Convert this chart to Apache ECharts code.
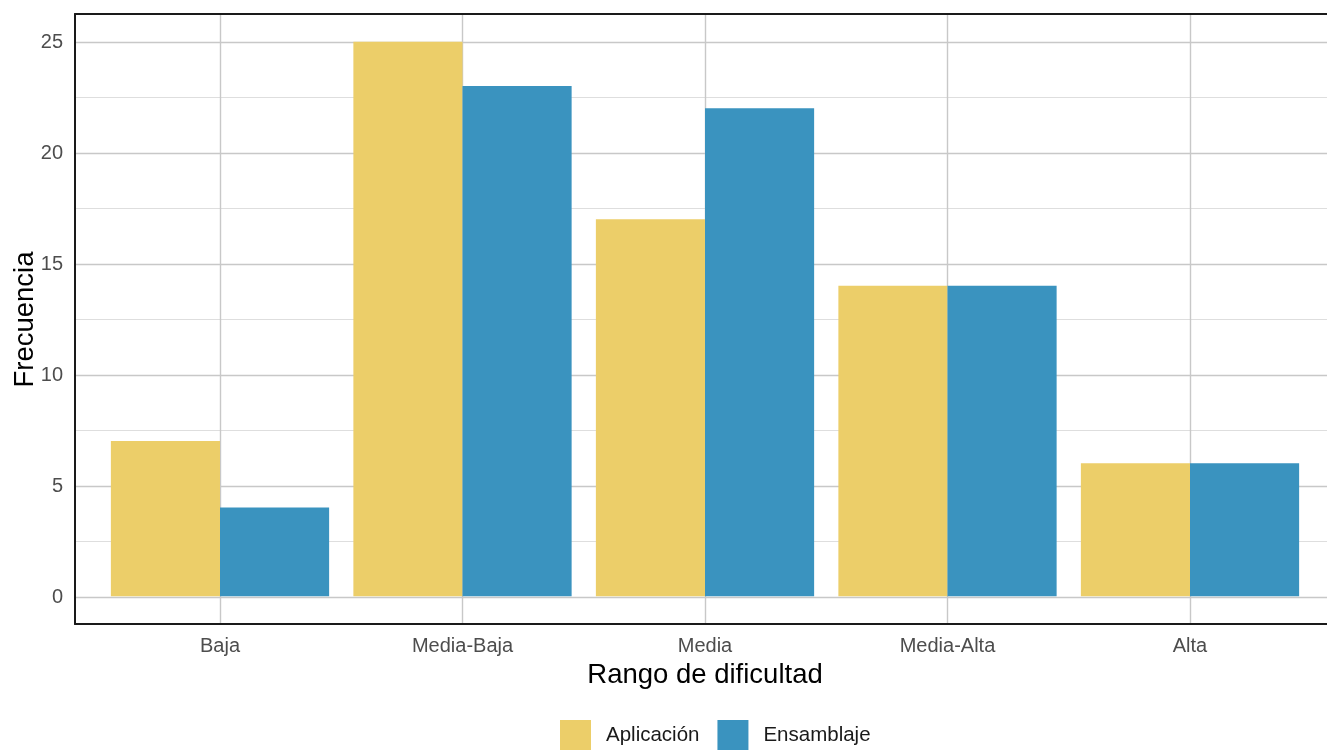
<!DOCTYPE html>
<html>
<head>
<meta charset="utf-8">
<script src="https://cdn.jsdelivr.net/npm/echarts@6/dist/echarts.min.js"></script>
<style>
html,body{margin:0;padding:0;background:#fff;}
#chart{width:1327px;height:750px;}
</style>
</head>
<body>
<div id="chart"></div>
<script>
const categories = ['Baja', 'Media-Baja', 'Media', 'Media-Alta', 'Alta'];
const aplicacion = [7, 25, 17, 14, 6];
const ensamblaje = [4, 23, 22, 14, 6];
const seriesNames = ['Aplicación', 'Ensamblaje'];
const yTicks = { min: 0, max: 25, interval: 5 };

const FONT = '"Liberation Sans", Arial, sans-serif';
const MAJOR = '#C8C8C8';
const MINOR = '#DEDEDE';
const BORDER = '#1a1a1a';

const chart = echarts.init(document.getElementById('chart'), null, { renderer: 'canvas' });
chart.setOption({
  animation: false,
  backgroundColor: '#ffffff',
  textStyle: { fontFamily: FONT },
  grid: [
    // panel frame (drawn with axis lines)
    { left: 75, top: 14, width: 1260, height: 610, outerBoundsMode: 'none', containLabel: false, z: 10 },
    // y axis labels + horizontal gridlines
    { left: 75, top: 42, width: 1260, height: 555, outerBoundsMode: 'none', containLabel: false },
    // bars + vertical gridlines
    { left: 220, top: 14, width: 970, height: 610, outerBoundsMode: 'none', containLabel: false }
  ],
  xAxis: [
    { gridIndex: 0, type: 'value', min: 0, max: 1, position: 'bottom',
      axisLine: { show: true, onZero: false, lineStyle: { color: BORDER, width: 2 } },
      axisTick: { show: false }, axisLabel: { show: false }, splitLine: { show: false } },
    { gridIndex: 0, type: 'value', min: 0, max: 1, position: 'top',
      axisLine: { show: true, onZero: false, lineStyle: { color: BORDER, width: 2 } },
      axisTick: { show: false }, axisLabel: { show: false }, splitLine: { show: false } },
    { gridIndex: 1, type: 'value', show: false, min: 0, max: 1 },
    {
      gridIndex: 2, type: 'category', data: categories, boundaryGap: false,
      axisLine: { show: false }, axisTick: { show: false },
      axisLabel: { interval: 0, color: '#4D4D4D', fontSize: 20, margin: 12, fontFamily: FONT },
      splitLine: { show: true, interval: 0, lineStyle: { color: MAJOR, width: 1.4 } },
      name: 'Rango de dificultad', nameLocation: 'middle', nameGap: 37,
      nameTextStyle: { fontSize: 27.5, color: '#000', fontFamily: FONT }
    }
  ],
  yAxis: [
    { gridIndex: 0, type: 'value', min: 0, max: 1, position: 'left',
      axisLine: { show: true, onZero: false, lineStyle: { color: BORDER, width: 2 } },
      axisTick: { show: false }, axisLabel: { show: false }, splitLine: { show: false } },
    {
      gridIndex: 1, type: 'value', min: yTicks.min, max: yTicks.max, interval: yTicks.interval,
      axisLine: { show: false }, axisTick: { show: false },
      axisLabel: { color: '#4D4D4D', fontSize: 20, margin: 12, fontFamily: FONT },
      splitLine: { show: true, lineStyle: { color: MAJOR, width: 1.4 } },
      minorTick: { show: false, splitNumber: 2 },
      minorSplitLine: { show: true, lineStyle: { color: MINOR, width: 1.2 } },
      name: 'Frecuencia', nameLocation: 'middle', nameGap: 36, nameRotate: 90, nameMoveOverlap: false,
      nameTextStyle: { fontSize: 27.5, color: '#000', fontFamily: FONT }
    },
    { gridIndex: 2, type: 'value', show: false, min: -1.25, max: 26.25, splitLine: { show: false } }
  ],
  legend: {
    data: seriesNames,
    left: 555, top: 715,
    icon: 'rect', itemWidth: 31, itemHeight: 31, itemGap: 18,
    textStyle: { fontSize: 20.5, color: '#1a1a1a', fontFamily: FONT, padding: [0, 0, 0, 10] }
  },
  series: [
    {
      name: seriesNames[0], type: 'bar', xAxisIndex: 3, yAxisIndex: 2,
      data: aplicacion, barWidth: '45%', barGap: '0%', clip: false,
      itemStyle: { color: '#ECCE69' }, z: 3
    },
    {
      name: seriesNames[1], type: 'bar', xAxisIndex: 3, yAxisIndex: 2,
      data: ensamblaje, barWidth: '45%', barGap: '0%', clip: false,
      itemStyle: { color: '#3A93BF' }, z: 3
    }
  ]
});
</script>
</body>
</html>
